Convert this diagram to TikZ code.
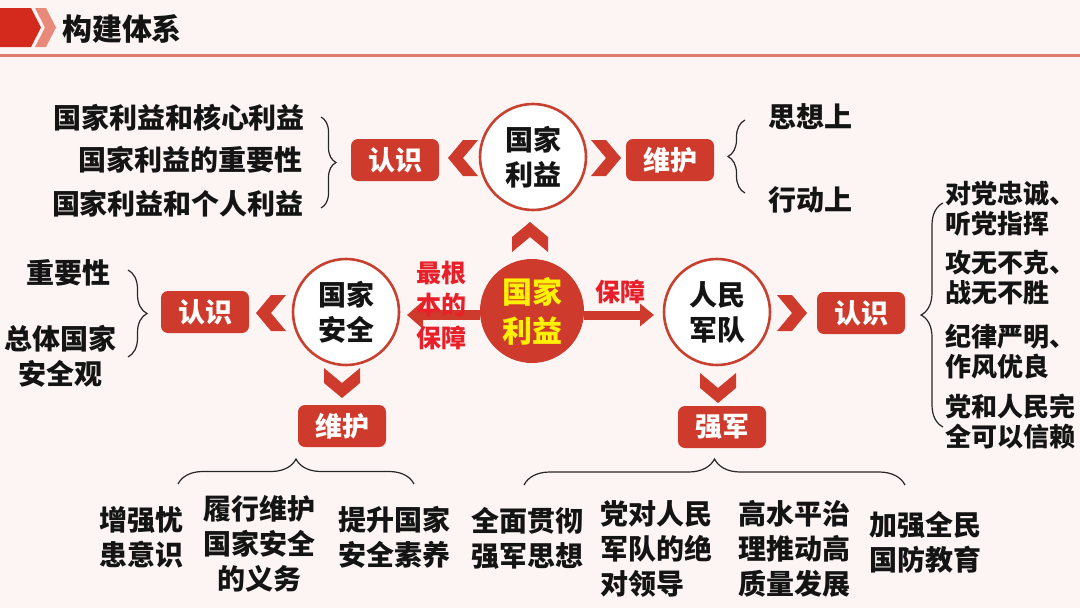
\documentclass[tikz,border=0pt]{standalone}
\usepackage{fontspec}
\setmainfont{Noto Sans CJK SC}
\usetikzlibrary{arrows.meta,decorations.pathreplacing}
\definecolor{bg}{HTML}{FDF5F4}
\definecolor{rd}{HTML}{CE3A2C}
\definecolor{rdline}{HTML}{C8402F}
\definecolor{rtext}{HTML}{E8202A}
\definecolor{ylw}{HTML}{FFF200}
\definecolor{titler}{HTML}{D42A1E}
\definecolor{titlel}{HTML}{E8897A}
\definecolor{rulec}{HTML}{DE7A6C}
\definecolor{ink}{HTML}{141414}
\begin{document}
\begin{tikzpicture}[x=1pt,y=-1pt,
  every node/.style={inner sep=0pt, outer sep=0pt, text=ink},
  circ/.style={circle, draw=rdline, line width=2.6pt, fill=white, minimum size=106pt, align=center, font=\bfseries\fontsize{28}{35}\selectfont},
  tag/.style={rounded corners=7pt, fill=rd, text=white, minimum width=88pt, minimum height=42pt, font=\bfseries\fontsize{27}{30}\selectfont},
  txt/.style={font=\bfseries\fontsize{28}{35}\selectfont, align=center},
  rtxt/.style={font=\bfseries\fontsize{26}{30}\selectfont, align=left, anchor=west},
  br/.style={draw=black!85, line width=1.2pt, decorate, decoration={brace, amplitude=#1, aspect=0.5}},
  chev/.pic={\fill[rd] (-15,-18)--(0,-18)--(15,0)--(0,18)--(-15,18)--(0,0)--cycle;},
  bigarrow/.style={draw=rd, line width=10pt, -{Triangle[width=27pt,length=16pt]}}
]
\useasboundingbox (0,0) rectangle (1080,608);
\fill[bg] (0,0) rectangle (1080,608);

% title bar
\fill[titler] (0,8) -- (31,8) -- (41,27.5) -- (31,47) -- (0,47) -- cycle;
\fill[titlel] (35,8) -- (46,8) -- (56,27.5) -- (46,47) -- (35,47) -- (45,27.5) -- cycle;
\node[font=\bfseries\fontsize{30}{30}\selectfont, anchor=west] (title) at (62,29) {构建体系};
\draw[rulec, line width=3pt] (0,55) -- (1080,55);

% circles
\node[circ] (nlTop) at (533,157) {国家\\利益};
\node[circ] (sec) at (346,312) {国家\\安全};
\node[circ] (army) at (717,312) {人民\\军队};

% arrows from centre
\coordinate (cL) at (480,315);
\coordinate (cR) at (584,315);
\coordinate (sE) at (407,315);
\coordinate (aW) at (654,315);
\draw[bigarrow] (cL) -- (sE);
\draw[draw=rd, line width=9pt, -{Triangle[width=22pt,length=14pt]}] (cR) -- (aW);

\node[circle, fill=rd, minimum size=104pt, text=ylw, align=center, font=\bfseries\fontsize{30}{39}\selectfont] (ctr) at (532,311) {国家\\利益};

% red labels
\node[font=\bfseries\fontsize{25}{32.5}\selectfont, text=rtext, align=center] (lbl1) at (441,305) {最根\\本的\\保障};
\node[font=\bfseries\fontsize{25}{30}\selectfont, text=rtext] (lbl2) at (620,292) {保障};

% tags
\node[tag] (tTL) at (395,160) {认识};
\node[tag] (tTR) at (670,160) {维护};
\node[tag] (tL) at (205,312) {认识};
\node[tag] (tR) at (861,313) {认识};
\node[tag] (tBL) at (342,426) {维护};
\node[tag] (tBR) at (722,427) {强军};

% chevrons
\pic[rotate=180] at (463,158) {chev};
\pic at (606,158) {chev};
\pic[rotate=90] at (530,237) {chev};
\pic[rotate=180] at (271,313) {chev};
\pic at (792,313) {chev};
\pic[rotate=-90] at (342,383) {chev};
\pic[rotate=-90] at (718,388) {chev};

% top-left list
\node[txt, anchor=east] (a1) at (305,118) {国家利益和核心利益};
\node[txt, anchor=east] (a2) at (302,160) {国家利益的重要性};
\node[txt, anchor=east] (a3) at (304,204) {国家利益和个人利益};
\coordinate (b1s) at (321,117);
\coordinate (b1e) at (321,208);
\draw[br=15pt] (b1s) -- (b1e);

% top-right list
\node[txt, anchor=west] (b1) at (768,117) {思想上};
\node[txt, anchor=west] (b2) at (768,200) {行动上};
\coordinate (b2s) at (745,193);
\coordinate (b2e) at (745,120);
\draw[br=17pt] (b2s) -- (b2e);

% left list
\node[txt] (c1) at (69,273) {重要性};
\node[txt] (c2) at (61,356) {总体国家\\安全观};
\coordinate (b3s) at (128,270);
\coordinate (b3e) at (128,357);
\draw[br=19pt] (b3s) -- (b3e);

% right list
\node[rtxt] (d1) at (945,209) {对党忠诚、\\听党指挥};
\node[rtxt] (d2) at (945,278) {攻无不克、\\战无不胜};
\node[rtxt] (d3) at (945,352) {纪律严明、\\作风优良};
\node[rtxt] (d4) at (945,422) {党和人民完\\全可以信赖};
\coordinate (b4s) at (943,427);
\coordinate (b4e) at (943,203);
\draw[br=22pt] (b4s) -- (b4e);

% bottom-left
\coordinate (b5s) at (178,484);
\coordinate (b5e) at (414,484);
\draw[br=25pt] (b5s) -- (b5e);
\node[txt] (e1) at (141,537) {增强忧\\患意识};
\node[txt] (e2) at (259,544) {履行维护\\国家安全\\的义务};
\node[txt] (e3) at (394,537) {提升国家\\安全素养};

% bottom-right
\coordinate (b6s) at (524,485);
\coordinate (b6e) at (905,485);
\draw[br=26pt] (b6s) -- (b6e);
\node[txt] (f1) at (527,538) {全面贯彻\\强军思想};
\node[txt, align=left, anchor=west] (f2) at (600,549) {党对人民\\军队的绝\\对领导};
\node[txt, align=left, anchor=west] (f3) at (738,549) {高水平治\\理推动高\\质量发展};
\node[txt] (f4) at (925,542) {加强全民\\国防教育};
\end{tikzpicture}
\end{document}
